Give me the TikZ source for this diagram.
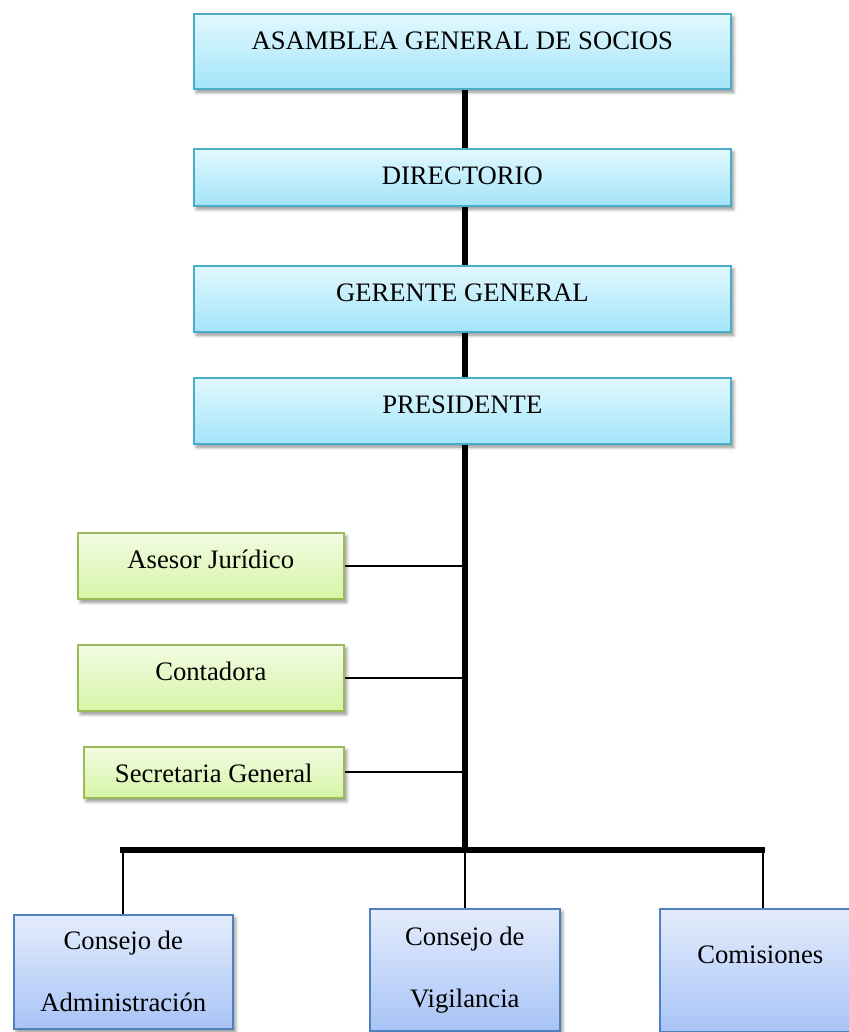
\documentclass[tikz,border=0pt]{standalone}
\usepackage{fontspec}
\setmainfont{Liberation Serif}
\usetikzlibrary{shadows.blur}
\definecolor{aquaEdge}{RGB}{75,172,198}
\definecolor{aquaTop}{RGB}{226,248,254}
\definecolor{aquaBot}{RGB}{163,228,250}
\definecolor{greenEdge}{RGB}{155,187,89}
\definecolor{greenTop}{RGB}{242,251,226}
\definecolor{greenBot}{RGB}{214,245,166}
\definecolor{blueEdge}{RGB}{79,129,189}
\definecolor{blueTop}{RGB}{228,236,252}
\definecolor{blueBot}{RGB}{168,196,246}
\pgfdeclarelayer{background}
\pgfsetlayers{background,main}
\begin{document}
\begin{tikzpicture}[x=0.75pt,y=-0.75pt,
  box/.style={rectangle, anchor=north west, inner sep=0pt, line width=1.2pt,
    font=\fontsize{20pt}{46.5pt}\selectfont,
    blur shadow={shadow xshift=2pt, shadow yshift=-2.5pt, shadow blur radius=2.5pt, shadow opacity=45}},
  headbox/.style={box, draw=aquaEdge, top color=aquaTop, bottom color=aquaBot,
    minimum width=402.75pt, text height=27pt},
  staffbox/.style={box, draw=greenEdge, top color=greenTop, bottom color=greenBot,
    text height=27pt},
  unitbox/.style={box, draw=blueEdge, top color=blueTop, bottom color=blueBot},
  spine/.style={line width=3.8pt},
  branch/.style={line width=1.4pt}]
\useasboundingbox (0,0) rectangle (849,1032);
\clip (0,0) rectangle (849,1032);

% main chain of command
\node[headbox, text depth=29.25pt] (asamblea) at (193,13) {ASAMBLEA GENERAL DE SOCIOS};
\node[headbox, text depth=15.75pt] (directorio) at (193,148) {DIRECTORIO};
\node[headbox, text depth=22.5pt] (gerente) at (193,265) {GERENTE GENERAL};
\node[headbox, text depth=22.5pt] (presidente) at (193,377) {PRESIDENTE};

% staff units
\node[staffbox, minimum width=199.5pt, text depth=22.5pt] (asesor) at (77,532) {Asesor Jurídico};
\node[staffbox, minimum width=199.5pt, text depth=22.5pt] (contadora) at (77,644) {Contadora};
\node[staffbox, minimum width=195pt, text depth=11.25pt] (secretaria) at (83,746) {Secretaria General};

% line units
\node[unitbox, minimum width=164.25pt, minimum height=85.5pt, align=center] (admin) at (13,914) {Consejo de\\Administración};
\node[unitbox, minimum width=142.5pt, minimum height=91.5pt, align=center] (vigilancia) at (369,908) {Consejo de\\Vigilancia};
\node[unitbox, minimum width=150.75pt, text height=41.25pt, text depth=51pt] (comisiones) at (659,908) {Comisiones};

\coordinate (hub) at (465,850);
\coordinate (barL) at (120,850);
\coordinate (barR) at (765,850);
\coordinate (dropC) at (763,850);

\begin{pgfonlayer}{background}
  \draw[spine] (asamblea.south -| hub) -- (hub);
  \draw[spine] (barL) -- (barR);
  \draw[branch] (asesor.east) -- (asesor.east -| hub);
  \draw[branch] (contadora.east) -- (contadora.east -| hub);
  \draw[branch] (secretaria.east) -- (secretaria.east -| hub);
  \draw[branch] (admin.north |- hub) -- (admin.north);
  \draw[branch] (vigilancia.north |- hub) -- (vigilancia.north);
  \draw[branch] (dropC) -- (dropC |- comisiones.north);
\end{pgfonlayer}
\end{tikzpicture}
\end{document}
